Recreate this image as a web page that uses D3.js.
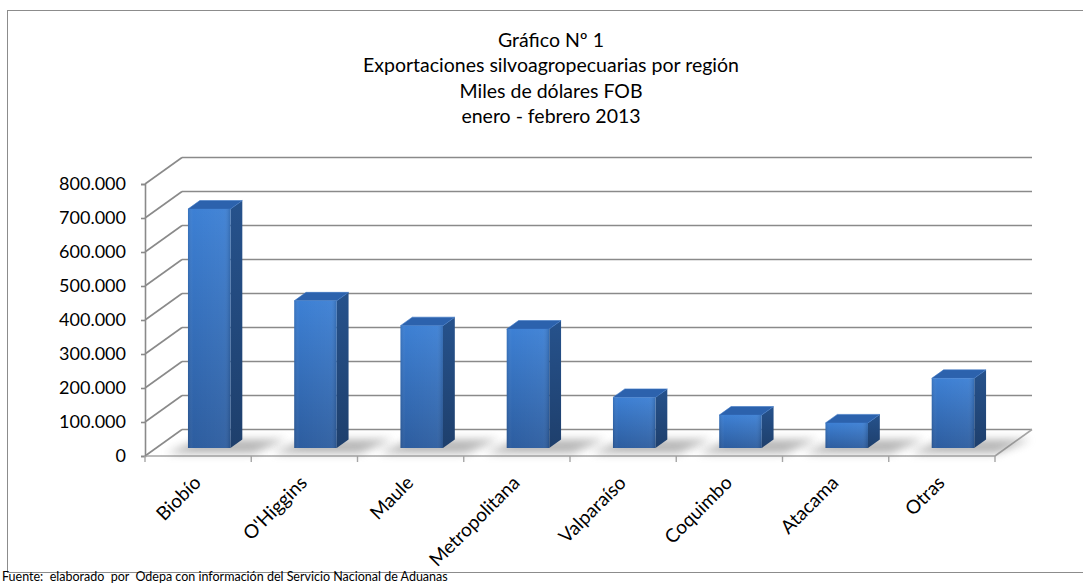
<!DOCTYPE html>
<html>
<head>
<meta charset="utf-8">
<script src="https://cdn.jsdelivr.net/npm/d3@7"></script>
<style>
  body { margin: 0; background: #fff; }
  text { font-family: Lato, "Open Sans", sans-serif; fill: #000; }
</style>
</head>
<body>
<div id="chart"></div>
<script>
// data (miles de dólares FOB)
var categories = ["Biobío", "O'Higgins", "Maule", "Metropolitana", "Valparaíso", "Coquimbo", "Atacama", "Otras"];
var values = [703000, 433000, 360000, 350000, 149000, 97000, 74000, 205000];
var yTicks = [0, 100000, 200000, 300000, 400000, 500000, 600000, 700000, 800000];
var titleLines = ["Gráfico Nº 1", "Exportaciones silvoagropecuarias por región", "Miles de dólares FOB", "enero - febrero 2013"];
var footnote = "Fuente:  elaborado  por  Odepa con información del Servicio Nacional de Aduanas";

var width = 1083, height = 584;

// plot box (front plane) and the depth offset of the back wall
var x0 = 145, x1 = 995, yBottom = 456, yTop = 184;
var depthX = 37, depthY = 26.5;

var xScale = d3.scaleBand().domain(categories).range([x0, x1]);
var yScale = d3.scaleLinear().domain([0, 800000]).range([yBottom, yTop]);

// project a point (front x, value, depth 0..1) to the screen
function P(x, v, f) {
  return [x + f * depthX, yScale(v) - f * depthY];
}

var cl = d3.formatLocale({decimal: ",", thousands: ".", grouping: [3], currency: ["$", ""]});
var fmt = cl.format(",d");

var svg = d3.select("#chart").append("svg")
    .attr("width", width)
    .attr("height", height);

var defs = svg.append("defs");

var gFront = defs.append("linearGradient").attr("id", "gFront")
    .attr("x1", 0).attr("y1", 0).attr("x2", 0).attr("y2", 1);
gFront.append("stop").attr("offset", "0%").attr("stop-color", "#3d80d4");
gFront.append("stop").attr("offset", "100%").attr("stop-color", "#2d5d9f");

var gFrontH = defs.append("linearGradient").attr("id", "gFrontH")
    .attr("x1", 0).attr("y1", 0).attr("x2", 1).attr("y2", 0);
gFrontH.append("stop").attr("offset", "0%").attr("stop-color", "#000").attr("stop-opacity", 0.12);
gFrontH.append("stop").attr("offset", "12%").attr("stop-color", "#fff").attr("stop-opacity", 0);
gFrontH.append("stop").attr("offset", "85%").attr("stop-color", "#fff").attr("stop-opacity", 0.04);
gFrontH.append("stop").attr("offset", "100%").attr("stop-color", "#000").attr("stop-opacity", 0.15);

var gSide = defs.append("linearGradient").attr("id", "gSide")
    .attr("x1", 0).attr("y1", 0).attr("x2", 0).attr("y2", 1);
gSide.append("stop").attr("offset", "0%").attr("stop-color", "#26528c");
gSide.append("stop").attr("offset", "100%").attr("stop-color", "#1e3f6c");

var shadowBlur = defs.append("filter").attr("id", "blur")
    .attr("x", "-50%").attr("y", "-100%").attr("width", "200%").attr("height", "300%");
shadowBlur.append("feGaussianBlur").attr("stdDeviation", 4);

// chart border (right and bottom run off the picture)
svg.append("rect")
    .attr("x", 7.5).attr("y", 10.5)
    .attr("width", 1200).attr("height", 562)
    .attr("fill", "none").attr("stroke", "#8c8c8c").attr("stroke-width", 1);

// title
svg.append("g").selectAll("text")
    .data(titleLines)
    .enter().append("text")
    .attr("x", 551)
    .attr("y", function(d, i) { return 47 + i * 25.3; })
    .attr("text-anchor", "middle")
    .style("font-size", "19.5px")
    .text(function(d) { return d; });

var grid = svg.append("g").attr("stroke", "#8a8a8a").attr("stroke-width", 1.6).attr("fill", "none");

// back wall gridlines and left wall diagonals
yTicks.forEach(function(t) {
  var a = P(x0, t, 1), b = P(x1, t, 1), c = P(x0, t, 0);
  grid.append("line").attr("x1", a[0]).attr("y1", a[1]).attr("x2", b[0]).attr("y2", b[1]);
  grid.append("line").attr("x1", c[0]).attr("y1", c[1]).attr("x2", a[0]).attr("y2", a[1]);
});

// floor edges
var fl = P(x0, 0, 0), fr = P(x1, 0, 0), br = P(x1, 0, 1);
grid.append("line").attr("x1", fl[0]).attr("y1", fl[1]).attr("x2", fr[0]).attr("y2", fr[1]).attr("stroke", "#a6a6a6");
grid.append("line").attr("x1", fr[0]).attr("y1", fr[1]).attr("x2", br[0]).attr("y2", br[1]).attr("stroke", "#a6a6a6");

// y axis on the front plane
var yAxis = d3.axisLeft(yScale).tickValues(yTicks).tickFormat(fmt).tickSize(4).tickPadding(15);
var ya = svg.append("g")
    .attr("transform", "translate(" + x0 + ",0)")
    .call(yAxis);
ya.select(".domain").attr("stroke", "#8a8a8a").attr("stroke-width", 1.6);
ya.selectAll(".tick line").attr("stroke", "#8a8a8a").attr("stroke-width", 1.6);
ya.selectAll(".tick text").style("font-size", "18px").attr("font-family", null).attr("fill", "#000");

// x axis ticks on the front floor edge
var edges = categories.map(function(c) { return xScale(c); }).concat([x1]);
svg.append("g").selectAll("line")
    .data(edges)
    .enter().append("line")
    .attr("x1", function(d) { return d; }).attr("x2", function(d) { return d; })
    .attr("y1", yBottom).attr("y2", yBottom + 6)
    .attr("stroke", "#a6a6a6").attr("stroke-width", 1.4);

// x labels
svg.append("g").selectAll("text")
    .data(categories)
    .enter().append("text")
    .attr("text-anchor", "end")
    .attr("transform", function(d) {
      return "translate(" + (xScale(d) + xScale.bandwidth() / 2 + 4) + "," + 484 + ") rotate(-45)";
    })
    .style("font-size", "19px")
    .text(function(d) { return d; });

// bars
var bw = xScale.bandwidth();
var f0 = 0.3, f1 = 0.62;
var data = categories.map(function(c, i) { return {cat: c, v: values[i]}; });

function poly(pts) { return pts.map(function(p) { return p.join(","); }).join(" "); }

var bars = svg.append("g").selectAll("g")
    .data(data)
    .enter().append("g");

// soft shadow on the floor
bars.append("polygon")
    .attr("points", function(d) {
      var l = xScale(d.cat) + bw * 0.3, r = l + bw * 0.4;
      return poly([P(l - 14, 0, 0.1), P(r + 30, 0, 0.1), P(r + 44, 0, 0.62), P(l, 0, 0.62)]);
    })
    .attr("fill", "#7a7a7a")
    .attr("opacity", 0.55)
    .attr("filter", "url(#blur)");

bars.append("polygon")
    .attr("points", function(d) {
      var l = xScale(d.cat) + bw * 0.3, r = l + bw * 0.4;
      return poly([P(r, 0, f0), P(r, 0, f1), P(r, d.v, f1), P(r, d.v, f0)]);
    })
    .attr("fill", "url(#gSide)");

bars.append("polygon")
    .attr("points", function(d) {
      var l = xScale(d.cat) + bw * 0.3, r = l + bw * 0.4;
      return poly([P(l, d.v, f0), P(r, d.v, f0), P(r, d.v, f1), P(l, d.v, f1)]);
    })
    .attr("fill", "#2c62ad")
    .attr("stroke", "#3a75c4").attr("stroke-width", 0.6);

bars.append("polygon")
    .attr("points", function(d) {
      var l = xScale(d.cat) + bw * 0.3, r = l + bw * 0.4;
      return poly([P(l, 0, f0), P(r, 0, f0), P(r, d.v, f0), P(l, d.v, f0)]);
    })
    .attr("fill", "url(#gFront)");

bars.append("polygon")
    .attr("points", function(d) {
      var l = xScale(d.cat) + bw * 0.3, r = l + bw * 0.4;
      return poly([P(l, 0, f0), P(r, 0, f0), P(r, d.v, f0), P(l, d.v, f0)]);
    })
    .attr("fill", "url(#gFrontH)");

// footnote (keeps the double spaces of the original)
svg.append("text")
    .attr("x", 2).attr("y", 581)
    .style("font-size", "12.5px")
    .style("white-space", "pre")
    .text(footnote);
</script>
</body>
</html>
